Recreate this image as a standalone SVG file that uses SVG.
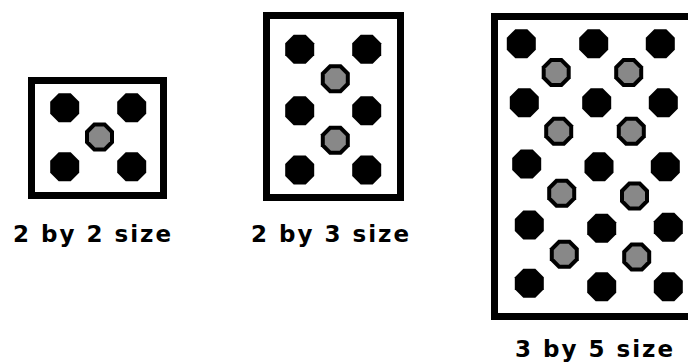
<svg xmlns="http://www.w3.org/2000/svg" xmlns:xlink="http://www.w3.org/1999/xlink" width="688" height="362" viewBox="0 0 688 362">
  <style>
    .frame { fill: #ffffff; stroke: #000000; stroke-width: 7; }
    .lbl { font-family: "DejaVu Sans", "Liberation Sans", sans-serif; font-weight: bold; font-size: 23px; letter-spacing: 2px; fill: #000000; text-anchor: middle; }
  </style>
  <defs>
    <path id="blk" d="M-6,-14.5 L6,-14.5 L14.5,-6 L14.5,6 L6,14.5 L-6,14.5 L-14.5,6 L-14.5,-6 Z" fill="#000000"/>
    <g id="gry">
      <path d="M-6,-14.5 L6,-14.5 L14.5,-6 L14.5,6 L6,14.5 L-6,14.5 L-14.5,6 L-14.5,-6 Z" fill="#000000"/>
      <path d="M-4.3,-10.5 L4.3,-10.5 L10.5,-4.3 L10.5,4.3 L4.3,10.5 L-4.3,10.5 L-10.5,4.3 L-10.5,-4.3 Z" fill="#888888"/>
    </g>
  </defs>
  <rect width="688" height="362" fill="#ffffff"/>

  <g id="box-2x2">
    <rect class="frame" x="31.5" y="80.5" width="132" height="115"/>
    <use xlink:href="#blk" x="64.7" y="107.7"/>
    <use xlink:href="#blk" x="131.7" y="107.7"/>
    <use xlink:href="#gry" x="99.5" y="137"/>
    <use xlink:href="#blk" x="64.7" y="166.7"/>
    <use xlink:href="#blk" x="131.7" y="166.7"/>
    <text class="lbl" x="93" y="242">2 by 2 size</text>
  </g>

  <g id="box-2x3">
    <rect class="frame" x="266.5" y="15.5" width="134" height="182"/>
    <use xlink:href="#blk" x="299.7" y="49.3"/>
    <use xlink:href="#blk" x="366.7" y="49.3"/>
    <use xlink:href="#gry" x="335.3" y="78.8"/>
    <use xlink:href="#blk" x="299.7" y="110.7"/>
    <use xlink:href="#blk" x="366.7" y="110.7"/>
    <use xlink:href="#gry" x="335.3" y="140.3"/>
    <use xlink:href="#blk" x="299.7" y="170"/>
    <use xlink:href="#blk" x="366.7" y="170"/>
    <text class="lbl" x="331" y="242">2 by 3 size</text>
  </g>

  <g id="box-3x5">
    <rect class="frame" x="494.5" y="16.5" width="220" height="300"/>
    <use xlink:href="#blk" x="521.3" y="43.7"/>
    <use xlink:href="#blk" x="593.7" y="43.7"/>
    <use xlink:href="#blk" x="660.3" y="43.7"/>
    <use xlink:href="#gry" x="556.2" y="72.5"/>
    <use xlink:href="#gry" x="628.7" y="72.5"/>
    <use xlink:href="#blk" x="524.3" y="102.7"/>
    <use xlink:href="#blk" x="596.7" y="102.7"/>
    <use xlink:href="#blk" x="663.3" y="102.7"/>
    <use xlink:href="#gry" x="558.7" y="131.3"/>
    <use xlink:href="#gry" x="631.3" y="131.3"/>
    <use xlink:href="#blk" x="526.7" y="164"/>
    <use xlink:href="#blk" x="599" y="166.7"/>
    <use xlink:href="#blk" x="665.3" y="166.7"/>
    <use xlink:href="#gry" x="561.7" y="193.3"/>
    <use xlink:href="#gry" x="634.5" y="196"/>
    <use xlink:href="#blk" x="529.3" y="225"/>
    <use xlink:href="#blk" x="601.7" y="228.3"/>
    <use xlink:href="#blk" x="668.3" y="227.3"/>
    <use xlink:href="#gry" x="564.3" y="254.3"/>
    <use xlink:href="#gry" x="636.7" y="257"/>
    <use xlink:href="#blk" x="529.3" y="283.3"/>
    <use xlink:href="#blk" x="601.7" y="286.7"/>
    <use xlink:href="#blk" x="668.3" y="286.7"/>
    <text class="lbl" x="595" y="357">3 by 5 size</text>
  </g>
</svg>
